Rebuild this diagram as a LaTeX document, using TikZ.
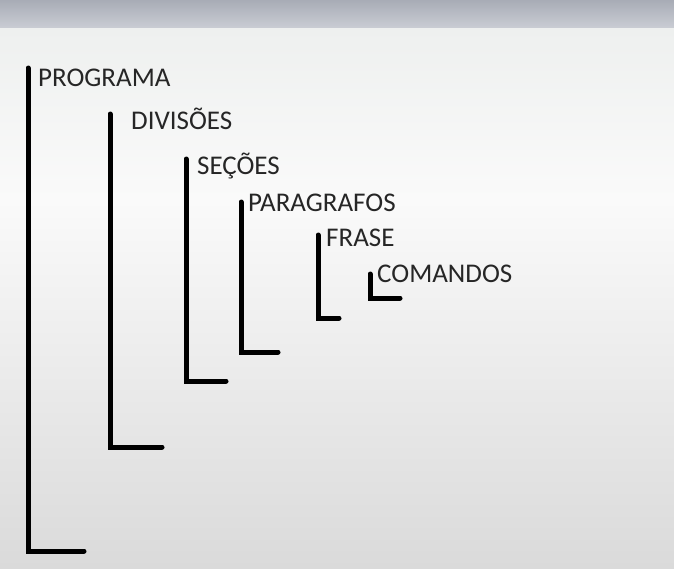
\documentclass[tikz,border=0pt]{standalone}
\usepackage{fontspec}
\setmainfont{Carlito}
\begin{document}
\begin{tikzpicture}[x=1pt,y=-1pt,
  lbl/.style={anchor=base west,inner sep=0pt,font=\fontsize{27}{31}\selectfont,text=black!85},
  brk/.style={line width=5pt,line cap=round,line join=miter}]
\definecolor{topA}{HTML}{A8ACB6}
\definecolor{topB}{HTML}{CACDD4}
\definecolor{bgA}{HTML}{EEF0EF}
\definecolor{bgB}{HTML}{FAFAFA}
\definecolor{bgC}{HTML}{DADADA}
\useasboundingbox (0,0) rectangle (674,568);
\shade[top color=topA,bottom color=topB] (0,0) rectangle (674,28);
\shade[top color=bgA,bottom color=bgB] (0,28) rectangle (674,200);
\shade[top color=bgB,bottom color=bgC] (0,200) rectangle (674,568);
% labels
\node[lbl] (programa) at (38,86) {PROGRAMA};
\node[lbl] (divisoes) at (131,129) {DIVISÕES};
\node[lbl] (secoes) at (197,174) {SEÇÕES};
\node[lbl] (paragrafos) at (248,211) {PARAGRAFOS};
\node[lbl] (frase) at (326,246) {FRASE};
\node[lbl] (comandos) at (377,282) {COMANDOS};
% bracket coordinates
\coordinate (p1) at (28,68);  \coordinate (p2) at (28,551);  \coordinate (p3) at (84,551);
\coordinate (d1) at (110,114); \coordinate (d2) at (110,447); \coordinate (d3) at (162,447);
\coordinate (s1) at (186,159); \coordinate (s2) at (186,381); \coordinate (s3) at (226,381);
\coordinate (g1) at (241,202); \coordinate (g2) at (241,352); \coordinate (g3) at (278,352);
\coordinate (f1) at (318,235); \coordinate (f2) at (318,318); \coordinate (f3) at (339,318);
\coordinate (c1) at (370,274); \coordinate (c2) at (370,298); \coordinate (c3) at (400,298);
\draw[brk] (p1) -- (p2) -- (p3);
\draw[brk] (d1) -- (d2) -- (d3);
\draw[brk] (s1) -- (s2) -- (s3);
\draw[brk] (g1) -- (g2) -- (g3);
\draw[brk] (f1) -- (f2) -- (f3);
\draw[brk] (c1) -- (c2) -- (c3);
\end{tikzpicture}
\end{document}
